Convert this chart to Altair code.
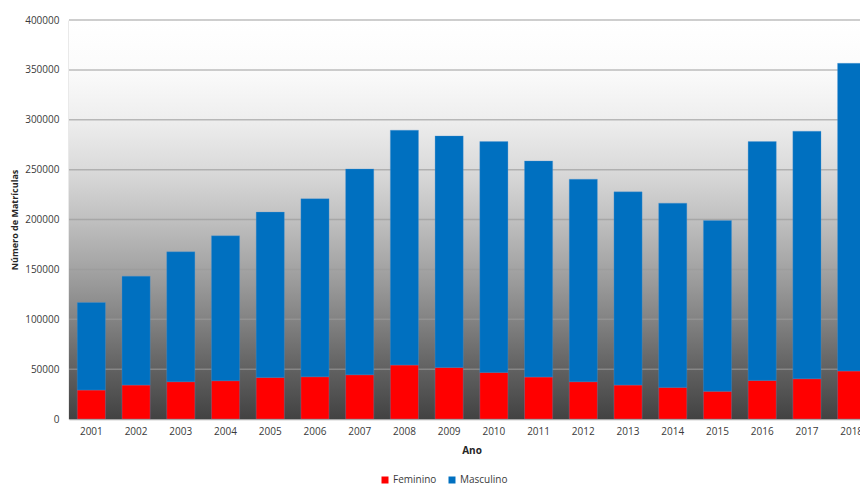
import altair as alt
import pandas as pd

anos = [str(y) for y in range(2001, 2019)]
feminino = [29000, 34000, 37400, 38400, 41700, 42400, 44400, 54100, 51700,
            46700, 42100, 37400, 34000, 31700, 27700, 38700, 40400, 48100]
masculino = [87800, 109200, 130200, 145200, 165700, 178500, 206300, 235400, 232100,
             231400, 216600, 203000, 193700, 184700, 171300, 239400, 248100, 308500]
series = ["Feminino", "Masculino"]
cores = ["#ff0000", "#0070c0"]
y_ticks = [0, 50000, 100000, 150000, 200000, 250000, 300000, 350000, 400000]

rows = []
for i, a in enumerate(anos):
    rows.append({"Ano": a, "Sexo": "Feminino", "ord": 0, "v": feminino[i]})
    rows.append({"Ano": a, "Sexo": "Masculino", "ord": 1, "v": masculino[i]})
df = pd.DataFrame(rows)

W = 791
H = 399
FONT = "Open Sans"

yscale = alt.Scale(domain=[0, 400000], nice=False)

bg = alt.Chart(pd.DataFrame({"a": [0]})).mark_rect(
    color=alt.LinearGradient(
        gradient="linear", x1=0, x2=0, y1=0, y2=1,
        stops=[
            alt.GradientStop(offset=0, color="#ffffff"),
            alt.GradientStop(offset=0.125, color="#fbfbfb"),
            alt.GradientStop(offset=0.25, color="#eeeeee"),
            alt.GradientStop(offset=0.375, color="#dadada"),
            alt.GradientStop(offset=0.5, color="#c0c0c0"),
            alt.GradientStop(offset=0.625, color="#a3a3a3"),
            alt.GradientStop(offset=0.75, color="#838383"),
            alt.GradientStop(offset=0.875, color="#616161"),
            alt.GradientStop(offset=1, color="#424242"),
        ],
    )
).encode(x=alt.value(0), x2=alt.value(W), y=alt.value(0), y2=alt.value(H))

grid = alt.Chart(pd.DataFrame({"t": y_ticks[1:]})).mark_rule(
    color="#9a9a9a", opacity=0.65, strokeWidth=1.5
).encode(y=alt.Y("t:Q", scale=yscale))

bars = alt.Chart(df).mark_bar(clip=True, stroke="#5b9bd5", strokeWidth=0.6, strokeOpacity=0.5).encode(
    x=alt.X(
        "Ano:N",
        sort=anos,
        scale=alt.Scale(range=[0, 805], paddingInner=0.37, paddingOuter=0.185),
        axis=alt.Axis(
            title="Ano", labelAngle=0, ticks=False, labelPadding=7,
            domainColor="#a6a6a6", domainWidth=1.5,
            labelFont=FONT, labelFontSize=10, labelColor="#3a3a3a",
            titleFont=FONT, titleFontSize=10, titleFontWeight="bold", titleColor="#262626",
            titleX=402.5, titleY=31, titleBaseline="middle", titleAlign="center",
        ),
    ),
    y=alt.Y(
        "v:Q",
        stack="zero",
        scale=yscale,
        axis=alt.Axis(
            title="Número de Matrículas", values=y_ticks, format="d", grid=False, ticks=False,
            labelPadding=10, domainColor="#a6a6a6", domainWidth=1.5,
            labelFont=FONT, labelFontSize=10, labelColor="#3a3a3a",
            titleFont=FONT, titleFontSize=9, titleFontWeight="bold", titleColor="#262626",
            titleX=-55, titleY=H / 2, titleAlign="center", titleBaseline="middle",
        ),
    ),
    color=alt.Color(
        "Sexo:N",
        scale=alt.Scale(domain=series, range=cores),
        legend=alt.Legend(
            title=None, orient="none", direction="horizontal",
            legendX=311, legendY=455, symbolType="square", symbolSize=49,
            symbolStrokeWidth=0, labelFont=FONT, labelFontSize=10,
            labelColor="#3a3a3a", labelOffset=3, columnPadding=10, padding=0,
        ),
    ),
    order=alt.Order("ord:Q", sort="ascending"),
)

chart = alt.layer(bg, grid, bars).properties(
    width=W, height=H,
    autosize=alt.AutoSizeParams(type="none"),
    padding={"left": 69, "top": 20, "right": 0, "bottom": 66},
).configure_view(stroke=None).configure(background="white")

chart.save("out.html", embed_options={"renderer": "svg", "actions": False})
